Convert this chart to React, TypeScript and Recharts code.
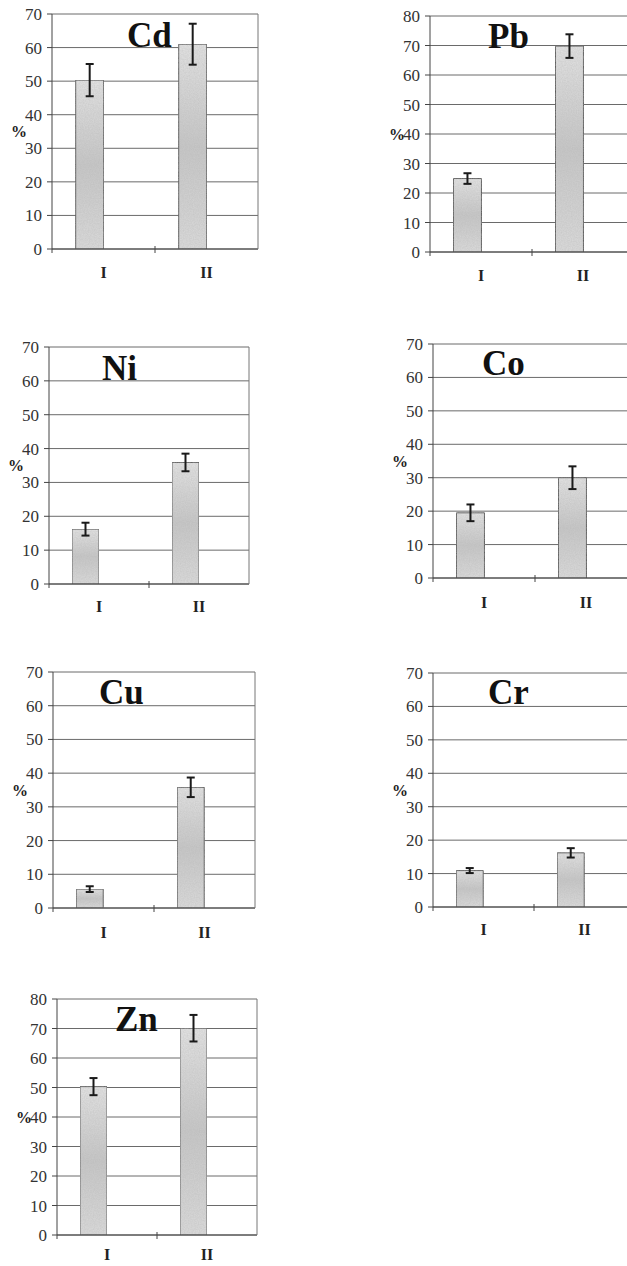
import { Bar, BarChart, CartesianGrid, ErrorBar, XAxis, YAxis } from 'recharts';

// Percent of each metal, two groups (I, II), with error bars.
const categories = ['I', 'II'];

const cdMean = [50.3, 61.0];
const cdErr = [4.8, 6.1];
const pbMean = [24.9, 69.8];
const pbErr = [1.8, 4.0];
const niMean = [16.2, 35.9];
const niErr = [1.9, 2.6];
const coMean = [19.5, 30.0];
const coErr = [2.5, 3.4];
const cuMean = [5.6, 35.8];
const cuErr = [0.85, 2.9];
const crMean = [10.9, 16.2];
const crErr = [0.75, 1.4];
const znMean = [50.3, 70.1];
const znErr = [2.9, 4.5];

const ticks70 = [0, 10, 20, 30, 40, 50, 60, 70];
const ticks80 = [0, 10, 20, 30, 40, 50, 60, 70, 80];

const SERIF = '"Liberation Serif", "Times New Roman", serif';
const YW = 45; // left axis width
const RW = 1; // right border axis
const MT = 12;
const XH = 40;

interface PanelCfg {
  name: string;
  x: number; // plot left
  y: number; // plot top
  w: number;
  h: number;
  ticks: number[];
  tx: number; // title offset inside plot
  ty: number;
  ly: number; // category label baseline below the axis
}

const panels: PanelCfg[] = [
  { name: 'Cd', x: 52, y: 14, w: 206, h: 235, ticks: ticks70, tx: 75, ty: 33, ly: 29 },
  { name: 'Pb', x: 430, y: 16, w: 204, h: 236, ticks: ticks80, tx: 58, ty: 32, ly: 29 },
  { name: 'Ni', x: 49, y: 347, w: 200, h: 237, ticks: ticks70, tx: 53, ty: 33, ly: 28 },
  { name: 'Co', x: 433, y: 344, w: 204, h: 234, ticks: ticks70, tx: 49, ty: 31, ly: 30 },
  { name: 'Cu', x: 53, y: 672, w: 202, h: 236, ticks: ticks70, tx: 46, ty: 32, ly: 30 },
  { name: 'Cr', x: 433, y: 673, w: 202, h: 234, ticks: ticks70, tx: 55, ty: 31, ly: 28 },
  { name: 'Zn', x: 57, y: 999, w: 200, h: 236, ticks: ticks80, tx: 58, ty: 32, ly: 25 },
];

const series: Record<string, [number[], number[]]> = {
  Cd: [cdMean, cdErr],
  Pb: [pbMean, pbErr],
  Ni: [niMean, niErr],
  Co: [coMean, coErr],
  Cu: [cuMean, cuErr],
  Cr: [crMean, crErr],
  Zn: [znMean, znErr],
};

function catTick(p: any, band: number, ly: number) {
  const { x, y, payload, index } = p;
  return (
    <g>
      <text
        x={x}
        y={y + ly}
        textAnchor="middle"
        fontFamily={SERIF}
        fontWeight="bold"
        fontSize={16}
        fill="#222"
        style={{ fontFamily: SERIF }}
      >
        {payload.value}
      </text>
      {index === 0 && (
        <>
          <line x1={x + band / 2} x2={x + band / 2} y1={y - 3} y2={y + 4} stroke="#444" />
          <line x1={x - band / 2} x2={x - band / 2} y1={y} y2={y + 4} stroke="#444" />
        </>
      )}
    </g>
  );
}

function Panel({ cfg }: { cfg: PanelCfg }) {
  const [mean, err] = series[cfg.name];
  const data = categories.map((c, i) => ({ cat: c, value: mean[i], err: err[i], blank: null }));
  const width = YW + cfg.w + RW;
  const height = MT + cfg.h + XH;
  const band = cfg.w / 2;
  const max = cfg.ticks[cfg.ticks.length - 1];
  const gid = `fill-${cfg.name}`;
  const nid = `grain-${cfg.name}`;

  return (
    <div
      style={{
        position: 'absolute',
        left: cfg.x - YW,
        top: cfg.y - MT,
        width,
        height,
        fontFamily: SERIF,
      }}
    >
      <BarChart
        width={width}
        height={height}
        data={data}
        margin={{ top: MT, right: 0, bottom: 0, left: 0 }}
        barGap={0}
        barCategoryGap="23%"
      >
        <defs>
          <linearGradient id={gid} x1="0" y1="0" x2="0" y2="1">
            <stop offset="0%" stopColor="#e2e2e2" />
            <stop offset="50%" stopColor="#c6c6c6" />
            <stop offset="100%" stopColor="#dadada" />
          </linearGradient>
          <filter id={nid} x="0" y="0" width="100%" height="100%">
            <feTurbulence type="fractalNoise" baseFrequency="0.8" numOctaves={2} seed={3} result="n" />
            <feColorMatrix
              in="n"
              type="matrix"
              values="0 0 0 0 0.45  0 0 0 0 0.45  0 0 0 0 0.45  0 0 0 0.55 -0.1"
              result="g"
            />
            <feComposite in="g" in2="SourceGraphic" operator="in" result="gi" />
            <feMerge>
              <feMergeNode in="SourceGraphic" />
              <feMergeNode in="gi" />
            </feMerge>
          </filter>
        </defs>
        <CartesianGrid vertical={false} stroke="#6a6a6a" />
        <XAxis
          dataKey="cat"
          height={XH}
          interval={0}
          tickSize={0}
          tickMargin={0}
          tickLine={false}
          axisLine={{ stroke: '#444' }}
          tick={(p: any) => catTick(p, band, cfg.ly)}
        />
        <YAxis
          width={YW}
          domain={[0, max]}
          ticks={cfg.ticks}
          interval={0}
          tickSize={5}
          tickMargin={5}
          axisLine={{ stroke: '#444' }}
          tickLine={{ stroke: '#444' }}
          tick={{ fontSize: 17, fill: '#333', fontFamily: SERIF, style: { fontFamily: SERIF } }}
          label={{
            value: '%',
            position: 'insideLeft',
            offset: 4,
            style: { fontSize: 16, fontWeight: 'bold', fill: '#222', fontFamily: SERIF },
          }}
        />
        <YAxis
          yAxisId="r"
          orientation="right"
          width={RW}
          domain={[0, max]}
          tick={false}
          tickLine={false}
          axisLine={{ stroke: '#777' }}
        />
        <Bar
          dataKey="value"
          fill={`url(#${gid})`}
          stroke="#555"
          strokeWidth={1}
          filter={`url(#${nid})`}
          isAnimationActive={false}
        >
          <ErrorBar dataKey="err" direction="y" width={4} strokeWidth={2} stroke="#1a1a1a" />
        </Bar>
        <Bar dataKey="blank" fill="none" isAnimationActive={false} />
      </BarChart>
      <svg
        width={width}
        height={height}
        style={{ position: 'absolute', left: 0, top: 0, pointerEvents: 'none' }}
      >
        <text
          x={YW + cfg.tx}
          y={MT + cfg.ty}
          fontFamily={SERIF}
          fontWeight="bold"
          fontSize={35}
          fill="#111"
        >
          {cfg.name}
        </text>
      </svg>
    </div>
  );
}

export default function App() {
  return (
    <div
      style={{
        position: 'absolute',
        left: 0,
        top: 0,
        width: 627,
        height: 1266,
        overflow: 'hidden',
        background: '#fff',
        fontFamily: SERIF,
      }}
    >
      {panels.map((cfg) => (
        <Panel key={cfg.name} cfg={cfg} />
      ))}
    </div>
  );
}
